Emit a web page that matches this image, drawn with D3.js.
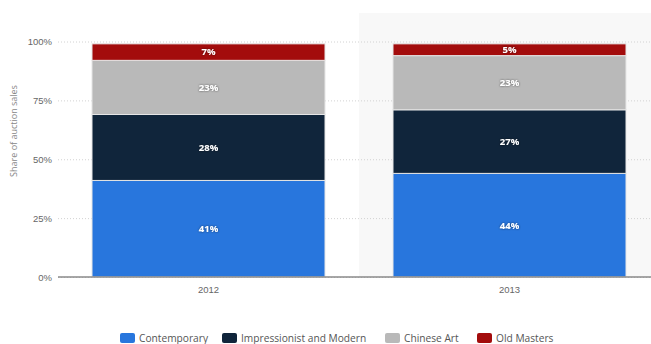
<!DOCTYPE html>
<html>
<head>
<meta charset="utf-8">
<script src="https://cdn.jsdelivr.net/npm/d3@7"></script>
<style>
  html, body { margin: 0; padding: 0; background: #fff; }
  svg { display: block; font-family: "Open Sans", "DejaVu Sans", sans-serif; }
</style>
</head>
<body>
<svg id="chart" width="651" height="344"></svg>
<script>
// Share of auction sales by art category
const years = ["2012", "2013"];
const seriesNames = ["Contemporary", "Impressionist and Modern", "Chinese Art", "Old Masters"];
const contemporary = [41, 44];
const impressionist = [28, 27];
const chineseArt = [23, 23];
const oldMasters = [7, 5];
const yTicks = [0, 25, 50, 75, 100];
const colors = ["#2876dd", "#10253b", "#b9b9b9", "#a30c0c"];
const highlightedYear = "2013";

const svg = d3.select("#chart");
const margin = { top: 41.5, left: 58, bottom: 277, right: 660 };

const rows = years.map((y, i) => ({
  year: y,
  "Contemporary": contemporary[i],
  "Impressionist and Modern": impressionist[i],
  "Chinese Art": chineseArt[i],
  "Old Masters": oldMasters[i]
}));

const x = d3.scaleBand().domain(years).range([margin.left, margin.right]).paddingInner(0).paddingOuter(0);
const y = d3.scaleLinear().domain([0, 100]).range([margin.bottom, margin.top]);

// highlighted column background
svg.append("rect")
  .attr("x", x(highlightedYear))
  .attr("y", 13)
  .attr("width", x.bandwidth())
  .attr("height", margin.bottom - 13)
  .attr("fill", "#f8f8f8");

// gridlines + y tick labels
const yAxis = d3.axisLeft(y).tickValues(yTicks).tickFormat(d => d + "%").tickSize(0).tickPadding(6);
const gy = svg.append("g").attr("transform", `translate(${margin.left},0)`).call(yAxis);
gy.select(".domain").remove();
gy.selectAll("text").attr("fill", "#666").attr("font-size", 9.5);
gy.selectAll(".tick").append("line")
  .attr("x1", 0).attr("x2", 651 - margin.left)
  .attr("stroke", "#d2d2d2").attr("stroke-dasharray", "1,2").attr("stroke-width", 1);

// y-axis title
svg.append("text")
  .attr("transform", "translate(17,131) rotate(-90)")
  .attr("text-anchor", "middle")
  .attr("fill", "#888")
  .attr("font-size", 9)
  .text("Share of auction sales");

// stacked bars
const stack = d3.stack().keys(seriesNames);
const layers = stack(rows);
const barW = 233;

const g = svg.append("g");
layers.forEach((layer, li) => {
  layer.forEach(seg => {
    const cx = x(seg.data.year) + x.bandwidth() / 2;
    g.append("rect")
      .attr("x", cx - barW / 2)
      .attr("y", y(seg[1]))
      .attr("width", barW)
      .attr("height", y(seg[0]) - y(seg[1]))
      .attr("fill", colors[li])
      .attr("stroke", "#e6e6e6")
      .attr("stroke-width", 1);
  });
});

// value labels
const filt = svg.append("defs").append("filter").attr("id", "shadow").attr("x", "-20%").attr("y", "-50%").attr("width", "140%").attr("height", "200%");
filt.append("feDropShadow").attr("dx", 0).attr("dy", 0).attr("stdDeviation", 0.8).attr("flood-color", "#000").attr("flood-opacity", 0.6);

layers.forEach((layer, li) => {
  layer.forEach(seg => {
    const cx = x(seg.data.year) + x.bandwidth() / 2;
    const v = seg[1] - seg[0];
    svg.append("text")
      .attr("x", cx)
      .attr("y", (y(seg[0]) + y(seg[1])) / 2)
      .attr("dy", "0.35em")
      .attr("text-anchor", "middle")
      .attr("fill", "#fff")
      .attr("font-size", 9.5)
      .attr("font-weight", "bold")
      .attr("filter", "url(#shadow)")
      .text(v + "%");
  });
});

// x axis
const xAxis = d3.axisBottom(x).tickSize(0).tickPadding(9);
const gx = svg.append("g").attr("transform", `translate(0,${margin.bottom})`).call(xAxis);
gx.select(".domain").attr("stroke", "#8a8a8a").attr("stroke-width", 1.5).attr("d", `M${margin.left},0H651`);
gx.selectAll("text").attr("fill", "#666").attr("font-size", 9.5);

// legend
const legendX = [120, 222, 385, 477];
const leg = svg.append("g");
seriesNames.forEach((name, i) => {
  const item = leg.append("g").attr("transform", `translate(${legendX[i]},333)`);
  item.append("rect").attr("width", 15).attr("height", 10).attr("rx", 2).attr("fill", colors[i]);
  item.append("text").attr("x", 19).attr("y", 5).attr("dy", "0.35em")
    .attr("fill", "#555").attr("font-size", 10.2).text(name);
});
</script>
</body>
</html>
